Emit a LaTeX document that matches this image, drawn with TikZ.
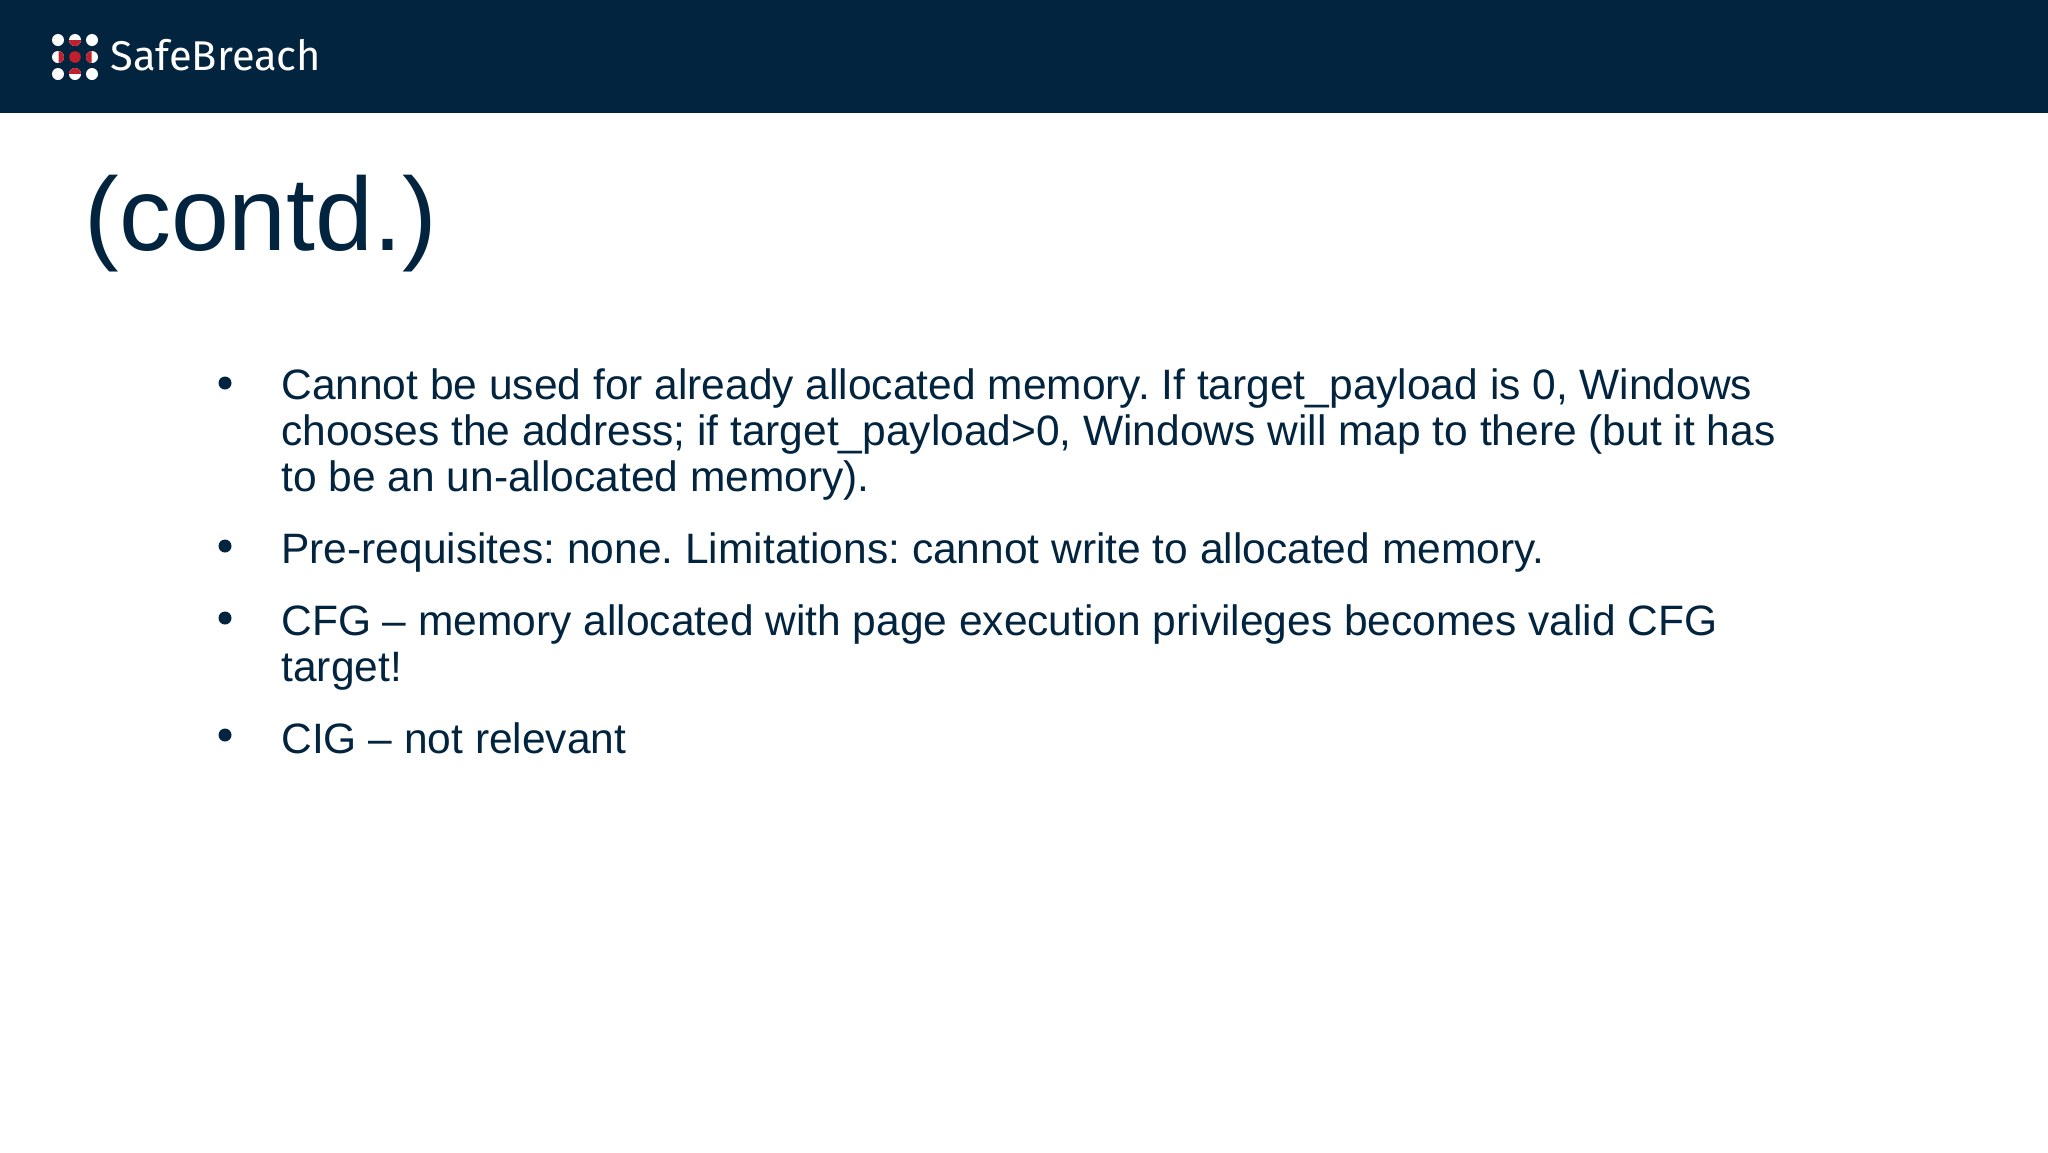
\documentclass[tikz,border=0pt]{standalone}
\usepackage{fontspec}
\setmainfont{Liberation Sans}
\newfontfamily\logofont{Fira Sans}
\definecolor{navy}{HTML}{03243F}
\definecolor{logored}{HTML}{C0202C}
\tikzset{
  bodyline/.style={anchor=base west,inner sep=0pt,text=navy,font=\fontsize{21.25}{24}\selectfont},
  bul/.style={circle,fill=navy,minimum size=6.5pt,inner sep=0pt},
  dot/.style={fill=white},
  reddot/.style={fill=logored}
}
\frenchspacing
\begin{document}
\begin{tikzpicture}[x=0.5pt,y=-0.5pt]
\useasboundingbox (0,0) rectangle (2048,1152);
\fill[white] (0,0) rectangle (2048,1152);
\fill[navy] (0,0) rectangle (2048,113);
% logo
\foreach \x/\y in {58/40,75/40,92/40,58/57,92/57,58/74,75/74,92/74}{\fill[dot] (\x,\y) circle (3pt);}
\fill[reddot] (75,57) circle (2.9pt);
\begin{scope}\clip (68,40.5) rectangle (82,47);\fill[reddot] (75,40) circle (3pt);\end{scope}
\begin{scope}\clip (68,67) rectangle (82,73);\fill[reddot] (75,74) circle (3pt);\end{scope}
\begin{scope}\clip (58.5,50) rectangle (65,64);\fill[reddot] (58,57) circle (3pt);\end{scope}
\begin{scope}\clip (85,50) rectangle (91.5,64);\fill[reddot] (92,57) circle (3pt);\end{scope}
\node[anchor=base west,inner sep=0pt,text=white,font=\logofont\fontsize{20.8}{24}\selectfont] (logo) at (110,70) {SafeBreach};
\node[anchor=base west,inner sep=0pt,text=navy,font=\fontsize{52}{64}\selectfont] (title) at (84,250) {(contd.)};
\node[bul] (b1) at (225,383) {};
\node[bul] (b2) at (225,546) {};
\node[bul] (b3) at (225,618) {};
\node[bul] (b4) at (225,735) {};
\node[bodyline] (l1) at (281,399) {Cannot be used for already allocated memory. If target\_payload is 0, Windows};
\node[bodyline] (l2) at (281,445) {chooses the address; if target\_payload>0, Windows will map to there (but it has};
\node[bodyline] (l3) at (281,491) {to be an un-allocated memory).};
\node[bodyline] (l4) at (281,563) {Pre-requisites: none. Limitations: cannot write to allocated memory.};
\node[bodyline] (l5) at (281,635) {CFG – memory allocated with page execution privileges becomes valid CFG};
\node[bodyline] (l6) at (281,681) {target!};
\node[bodyline] (l7) at (281,753) {CIG – not relevant};
\end{tikzpicture}
\end{document}
